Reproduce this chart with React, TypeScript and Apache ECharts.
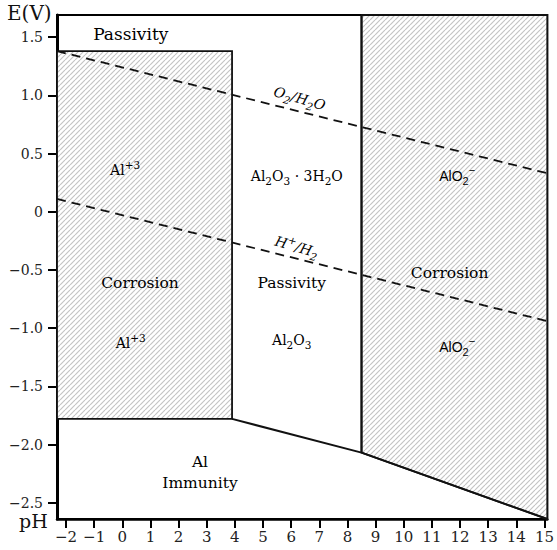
import React, { useEffect, useRef } from "react";
import * as echarts from "echarts";

// Axis ticks
const xTicks = [-2, -1, 0, 1, 2, 3, 4, 5, 6, 7, 8, 9, 10, 11, 12, 13, 14, 15];
const yTicks = [-2.5, -2, -1.5, -1, -0.5, 0, 0.5, 1, 1.5];
const xMin = -2.32;
const xMax = 15.1;
const yMin = -2.64;
const yMax = 1.69;

// Regions (pH, E)
const acidCorrosion = [[-2.32, -1.78], [3.9, -1.78], [3.9, 1.38], [-2.32, 1.38]];
const alkaliCorrosion = [[8.5, 1.69], [15.1, 1.69], [15.1, -2.64], [8.5, -2.07]];
const immunityBoundary = [[3.9, -1.78], [8.5, -2.07], [15.1, -2.64]];
const oxideRightEdge = [[8.5, -2.07], [8.5, 1.69]];
const oxygenLine = [[-2.32, 1.38], [15.1, 0.33]];
const hydrogenLine = [[-2.32, 0.11], [15.1, -0.94]];

// Labels
const labelTexts = [
  "{b|Passivity}",
  "{m|Al}{sup|+3}",
  "{m|Al}{sub|2}{m|O}{sub|3}{m| · 3H}{sub|2}{m|O}",
  "{s|AlO}{ssub|2}{ssup|−}",
  "{i|O}{isub|2}{i|/H}{isub|2}{i|O}",
  "{i|H}{isup|+}{i|/H}{isub|2}",
  "{c|Corrosion}",
  "{c|Passivity}",
  "{c|Corrosion}",
  "{m|Al}{sup|+3}",
  "{m|Al}{sub|2}{m|O}{sub|3}",
  "{s|AlO}{ssub|2}{ssup|−}",
  "{c|Al}",
  "{c|Immunity}",
];
const labelPH = [0.3, 0.1, 6.2, 11.9, 6.3, 6.2, 0.63, 6.02, 11.63, 0.3, 6.02, 11.9, 2.76, 2.76];
const labelE = [1.53, 0.36, 0.31, 0.31, 0.975, -0.3, -0.61, -0.61, -0.53, -1.13, -1.1, -1.16, -2.15, -2.33];
const labelAngle = [0, 0, 0, 0, -0.28, -0.28, 0, 0, 0, 0, 0, 0, 0, 0];

const SERIF = "DejaVu Serif";
const SANS = "Liberation Sans";

function makeHatch() {
  const s = 5;
  const c = document.createElement("canvas");
  c.width = s;
  c.height = s;
  const ctx = c.getContext("2d")!;
  ctx.fillStyle = "#ffffff";
  ctx.fillRect(0, 0, s, s);
  ctx.strokeStyle = "#c4c4c4";
  ctx.lineWidth = 1.2;
  for (const o of [-s, 0, s]) {
    ctx.beginPath();
    ctx.moveTo(o, s);
    ctx.lineTo(o + s, 0);
    ctx.stroke();
  }
  return c;
}

const rich = {
  b: { fontFamily: SERIF, fontSize: 17, color: "#111", lineHeight: 22 },
  c: { fontFamily: SERIF, fontSize: 15.5, color: "#111", lineHeight: 20 },
  m: { fontFamily: SERIF, fontSize: 14, color: "#111", lineHeight: 21 },
  sub: { fontFamily: SERIF, fontSize: 10.5, color: "#111", lineHeight: 11, verticalAlign: "bottom" },
  sup: { fontFamily: SERIF, fontSize: 10.5, color: "#111", lineHeight: 11, verticalAlign: "top" },
  s: { fontFamily: SANS, fontSize: 14, color: "#222", lineHeight: 22 },
  ssub: { fontFamily: SANS, fontSize: 11, color: "#222", lineHeight: 10, verticalAlign: "bottom" },
  ssup: { fontFamily: SANS, fontSize: 11, color: "#222", lineHeight: 10, verticalAlign: "top" },
  i: { fontFamily: SERIF, fontStyle: "italic", fontSize: 14, color: "#111", lineHeight: 21 },
  isub: { fontFamily: SERIF, fontStyle: "italic", fontSize: 10.5, color: "#111", lineHeight: 11, verticalAlign: "bottom" },
  isup: { fontFamily: SERIF, fontStyle: "italic", fontSize: 10.5, color: "#111", lineHeight: 11, verticalAlign: "top" },
};

const fmtNum = (v: number, dec: number) => {
  if (v === 0) return "0";
  const s = dec > 0 ? Math.abs(v).toFixed(dec) : String(Math.abs(v));
  return (v < 0 ? "−" : "") + s;
};

export default function App() {
  const ref = useRef<HTMLDivElement>(null);
  useEffect(() => {
    if (!ref.current) return;
    const chart = echarts.init(ref.current, undefined, { renderer: "svg" });
    const hatch = { image: makeHatch(), repeat: "repeat" };
    const regions = [acidCorrosion, alkaliCorrosion];
    const lineBase = { type: "line", symbol: "none", silent: true, animation: false };
    chart.setOption({
      animation: false,
      grid: {
        left: 57,
        right: 9,
        top: 15,
        bottom: 31,
        show: true,
        borderColor: "#000",
        borderWidth: 2,
        backgroundColor: "#fff",
      },
      xAxis: {
        type: "value",
        min: xMin,
        max: xMax,
        axisLine: { show: true, onZero: false, lineStyle: { color: "#000", width: 2.5 } },
        axisTick: { show: true, length: 9, customValues: xTicks, lineStyle: { color: "#000", width: 2 } },
        axisLabel: {
          customValues: xTicks,
          formatter: (v: number) => fmtNum(v, 0),
          fontFamily: SERIF,
          fontSize: 15,
          color: "#222",
          margin: 10,
        },
        splitLine: { show: false },
      },
      yAxis: {
        type: "value",
        min: yMin,
        max: yMax,
        axisLine: { show: true, onZero: false, lineStyle: { color: "#000", width: 3 } },
        axisTick: { show: true, length: 9, customValues: yTicks, lineStyle: { color: "#000", width: 2 } },
        axisLabel: {
          customValues: yTicks,
          formatter: (v: number) => fmtNum(v, 1),
          fontFamily: SERIF,
          fontSize: 14,
          color: "#222",
          margin: 14,
        },
        splitLine: { show: false },
      },
      graphic: [
        { type: "text", left: 7, top: 3, style: { text: "E(V)", fontFamily: SERIF, fontSize: 20, fill: "#111" } },
        { type: "text", left: 19, top: 511, style: { text: "pH", fontFamily: SERIF, fontSize: 19, fill: "#111" } },
      ],
      series: [
        {
          type: "custom",
          z: 1,
          silent: true,
          data: [0, 1],
          renderItem: (params: any, api: any) => {
            const pts = regions[params.dataIndex].map((p) => api.coord(p));
            return {
              type: "polygon",
              shape: { points: pts },
              style: { fill: hatch, stroke: "#111", lineWidth: 1.8 },
            };
          },
        },
        { ...lineBase, z: 2, data: immunityBoundary, lineStyle: { color: "#111", width: 2 } },
        { ...lineBase, z: 2, data: oxideRightEdge, lineStyle: { color: "#111", width: 2 } },
        { ...lineBase, z: 3, data: oxygenLine, lineStyle: { color: "#111", width: 1.8, type: [9, 6] } },
        { ...lineBase, z: 3, data: hydrogenLine, lineStyle: { color: "#111", width: 1.8, type: [9, 6] } },
        {
          type: "custom",
          z: 4,
          silent: true,
          data: labelPH.map((x, i) => [x, labelE[i]]),
          renderItem: (params: any, api: any) => {
            const i = params.dataIndex;
            const p = api.coord([api.value(0), api.value(1)]);
            return {
              type: "text",
              x: p[0],
              y: p[1],
              rotation: labelAngle[i],
              style: {
                text: labelTexts[i],
                rich,
                align: "center",
                verticalAlign: "middle",
              },
            };
          },
        },
      ],
    });
    return () => chart.dispose();
  }, []);
  return <div ref={ref} style={{ width: 557, height: 550, position: "absolute", left: 0, top: 0 }} />;
}
